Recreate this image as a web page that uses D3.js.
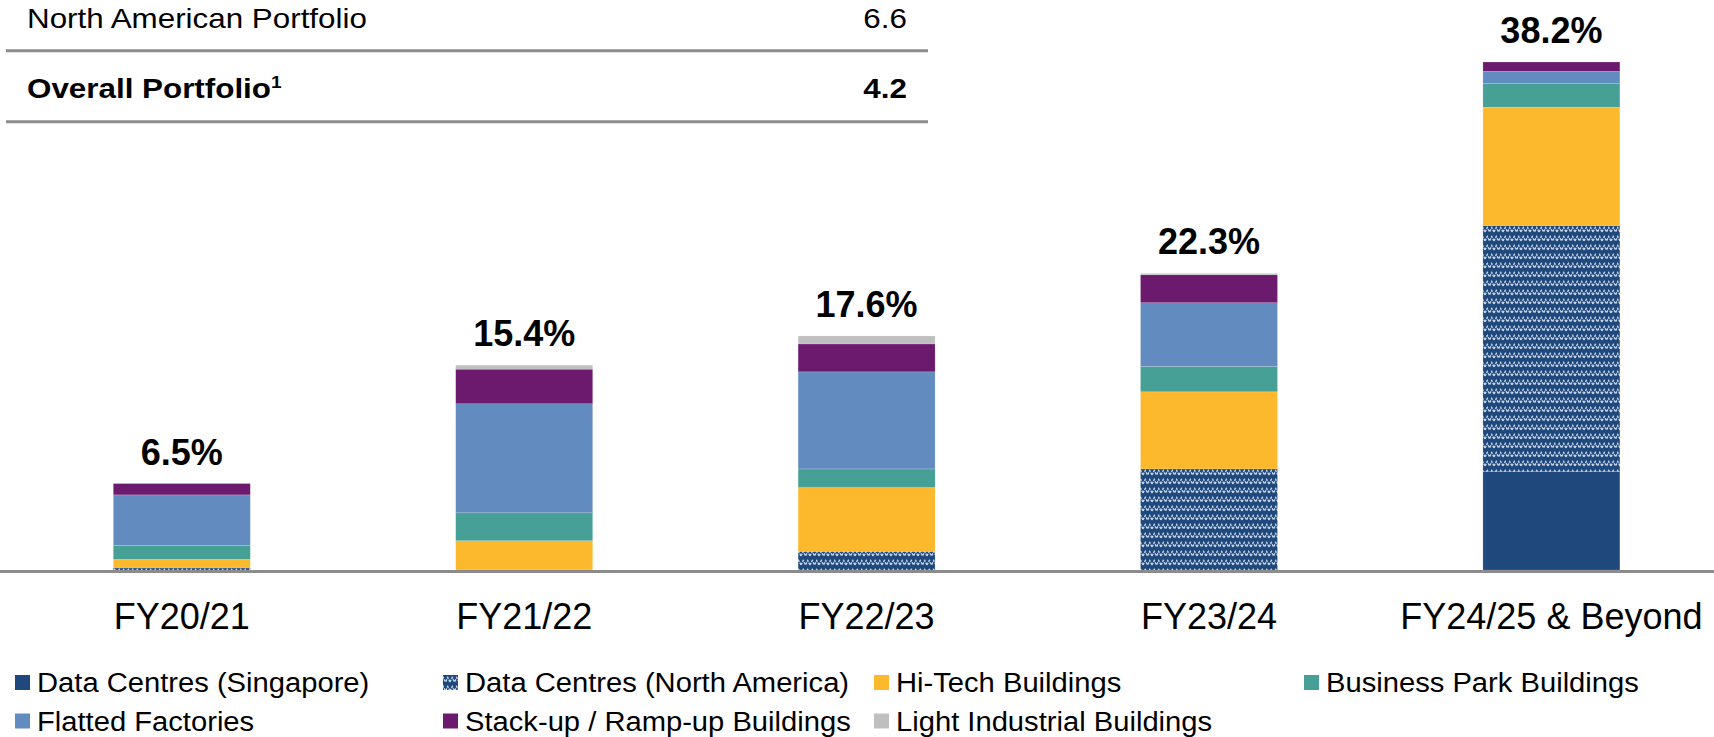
<!DOCTYPE html>
<html lang="en">
<head>
<meta charset="UTF-8">
<title>Lease Expiry Profile</title>
<script src="https://d3js.org/d3.v7.min.js"></script>
<style>
    body { margin: 0; background: #fff; }
    svg { display: block; font-family: "Liberation Sans", Arial, sans-serif; }
    .rule { stroke: #8c8c8c; stroke-width: 3px; }
    .cat-label { font-size: 36px; fill: #000; }
    .total-label { font-size: 36px; font-weight: bold; fill: #000; }
    .legend-label { font-size: 27px; fill: #000; }
    .table-text { font-size: 28px; fill: #000; }
</style>
</head>
<body>
<svg id="chart" width="1714" height="737"></svg>
<script>
// ---- data ----
const categories = ["FY20/21", "FY21/22", "FY22/23", "FY23/24", "FY24/25 & Beyond"];
const totals = [6.5, 15.4, 17.6, 22.3, 38.2];

const seriesNames = [
    "Data Centres (Singapore)",
    "Data Centres (North America)",
    "Hi-Tech Buildings",
    "Business Park Buildings",
    "Flatted Factories",
    "Stack-up / Ramp-up Buildings",
    "Light Industrial Buildings"
];
const dcSingapore    = [0, 0, 0, 0, 7.4];
const dcNorthAmerica = [0.15, 0, 1.4, 7.6, 18.5];
const hiTech         = [0.65, 2.2, 4.8, 5.8, 8.9];
const businessPark   = [1.05, 2.1, 1.4, 1.9, 1.8];
const flatted        = [3.8, 8.2, 7.3, 4.8, 0.9];
const stackUp        = [0.85, 2.6, 2.1, 2.1, 0.7];
const lightInd       = [0, 0.3, 0.6, 0.1, 0];
const seriesValues = [dcSingapore, dcNorthAmerica, hiTech, businessPark, flatted, stackUp, lightInd];

const tableLabels = ["North American Portfolio", "Overall Portfolio"];
const tableValues = ["6.6", "4.2"];

// ---- styles ----
const colors = ["#1f497d", "url(#naPattern)", "#fdb92e", "#46a096", "#628bbf", "#6b1a6e", "#bfbfbf"];

const svg = d3.select("#chart");

// pattern for North America data centres (white waves on dark blue)
const defs = svg.append("defs");
const pat = defs.append("pattern")
    .attr("id", "naPattern")
    .attr("patternUnits", "userSpaceOnUse")
    .attr("width", 9).attr("height", 9);
pat.append("rect").attr("width", 9).attr("height", 9).attr("fill", "#1f497d");
pat.append("path")
    .attr("d", "M0,7 L2.25,2.5 L4.5,7 L6.75,2.5 L9,7")
    .attr("fill", "none")
    .attr("stroke", "#e3eaf4")
    .attr("stroke-width", 1.3)
    .attr("stroke-dasharray", "2.5,1")
    .attr("opacity", 0.9);

// ---- scales ----
const x = d3.scaleBand()
    .domain(categories)
    .range([10.6, 1722.6])
    .paddingInner(0.6)
    .paddingOuter(0.3);

const y = d3.scaleLinear()
    .domain([0, 38.2])
    .range([570, 62]);

// stack data
const rows = categories.map((c, i) => {
    const r = { cat: c };
    seriesNames.forEach((s, j) => r[s] = seriesValues[j][i]);
    return r;
});
const stacked = d3.stack().keys(seriesNames)(rows);

// bars
const layers = svg.append("g").selectAll("g")
    .data(stacked)
    .enter().append("g")
    .attr("fill", (d, i) => colors[i]);

layers.selectAll("rect")
    .data(d => d)
    .enter().append("rect")
    .attr("x", d => x(d.data.cat))
    .attr("width", x.bandwidth())
    .attr("y", d => y(d[1]))
    .attr("height", d => Math.max(0, y(d[0]) - y(d[1])))
    .attr("stroke", "#ffffff")
    .attr("stroke-opacity", 0.25)
    .attr("stroke-width", 0.6);

// baseline axis
const xAxis = d3.axisBottom(x).tickSize(0).tickPadding(0);
const axisG = svg.append("g")
    .attr("transform", "translate(0,571.5)")
    .call(xAxis);
axisG.select(".domain").attr("class", "rule").attr("d", "M0,0H1714");
axisG.selectAll(".tick text")
    .attr("class", "cat-label")
    .attr("font-family", null)
    .attr("font-size", null)
    .attr("y", 57.5)
    .attr("dy", null);

// totals
svg.append("g").selectAll("text")
    .data(categories)
    .enter().append("text")
    .attr("class", "total-label")
    .attr("text-anchor", "middle")
    .attr("x", d => x(d) + x.bandwidth() / 2)
    .attr("y", (d, i) => y(totals[i]) - 19)
    .text((d, i) => totals[i].toFixed(1) + "%");

// ---- table at top ----
const stretchTable = 1.12;
const table = svg.append("g");
const tableBaselines = [27.5, 97.5];
tableLabels.forEach((lab, i) => {
    const t = table.append("text")
        .attr("class", "table-text")
        .attr("x", 27)
        .attr("y", tableBaselines[i])
        .attr("font-weight", i === 1 ? "bold" : null);
    t.append("tspan").text(lab);
    if (i === 1) {
        t.append("tspan").attr("font-size", "17px").attr("dy", -10).text("1");
    }
    const len = t.node().getComputedTextLength();
    t.attr("textLength", len * stretchTable).attr("lengthAdjust", "spacingAndGlyphs");

    const v = table.append("text")
        .attr("class", "table-text")
        .attr("y", tableBaselines[i])
        .attr("font-weight", i === 1 ? "bold" : null)
        .text(tableValues[i]);
    const vl = v.node().getComputedTextLength() * stretchTable;
    v.attr("x", 907 - vl).attr("textLength", vl).attr("lengthAdjust", "spacingAndGlyphs");
});
[50.7, 121.7].forEach(ly => {
    table.append("line").attr("class", "rule")
        .attr("x1", 6).attr("x2", 928).attr("y1", ly).attr("y2", ly);
});

// ---- legend ----
const legendCols = [15, 443, 874, 1304];
const legendRows = [682.5, 721];
const legendStretch = 1.08;
const legend = svg.append("g");
seriesNames.forEach((name, i) => {
    const col = i < 4 ? i : i - 4;
    const row = i < 4 ? 0 : 1;
    const gx = legendCols[col], gy = legendRows[row];
    legend.append("rect")
        .attr("x", gx).attr("y", gy - 7.5)
        .attr("width", 15).attr("height", 15)
        .attr("fill", colors[i]);
    const t = legend.append("text")
        .attr("class", "legend-label")
        .attr("x", gx + 22)
        .attr("y", gy + 9.7)
        .text(name);
    const len = t.node().getComputedTextLength();
    t.attr("textLength", len * legendStretch).attr("lengthAdjust", "spacingAndGlyphs");
});
</script>
</body>
</html>
